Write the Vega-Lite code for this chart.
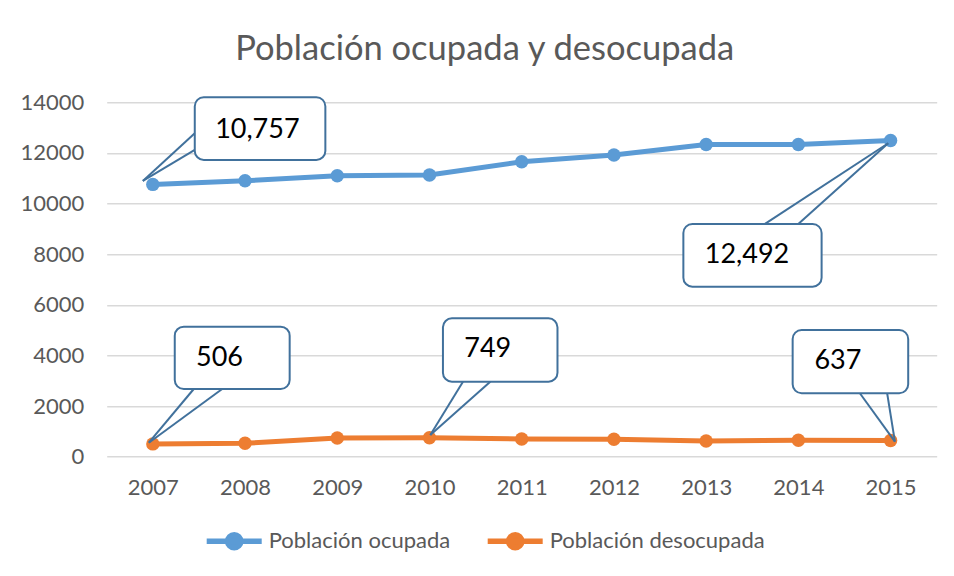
{
  "$schema": "https://vega.github.io/schema/vega-lite/v6.json",
  "width": 830,
  "height": 354.4,
  "autosize": {"type": "none"},
  "padding": {"left": 106.7, "top": 102.3, "right": 17.3, "bottom": 119.3},
  "background": "white",
  "title": {
    "text": "Población ocupada y desocupada",
    "font": "Lato",
    "fontSize": 34.5,
    "fontWeight": "normal",
    "color": "#595959",
    "anchor": "middle",
    "dx": -37,
    "offset": 24
  },
  "config": {
    "view": {"stroke": null},
    "font": "Lato",
    "axis": {
      "labelFont": "Lato",
      "labelFontSize": 22,
      "labelColor": "#595959",
      "domain": false,
      "ticks": false,
      "title": null
    }
  },
  "datasets": {
    "series": [
      {"year": 2007, "serie": "Población ocupada", "value": 10757},
      {"year": 2008, "serie": "Población ocupada", "value": 10900},
      {"year": 2009, "serie": "Población ocupada", "value": 11100},
      {"year": 2010, "serie": "Población ocupada", "value": 11130},
      {"year": 2011, "serie": "Población ocupada", "value": 11650},
      {"year": 2012, "serie": "Población ocupada", "value": 11920},
      {"year": 2013, "serie": "Población ocupada", "value": 12330},
      {"year": 2014, "serie": "Población ocupada", "value": 12330},
      {"year": 2015, "serie": "Población ocupada", "value": 12492},
      {"year": 2007, "serie": "Población desocupada", "value": 506},
      {"year": 2008, "serie": "Población desocupada", "value": 530},
      {"year": 2009, "serie": "Población desocupada", "value": 740},
      {"year": 2010, "serie": "Población desocupada", "value": 749},
      {"year": 2011, "serie": "Población desocupada", "value": 700},
      {"year": 2012, "serie": "Población desocupada", "value": 690},
      {"year": 2013, "serie": "Población desocupada", "value": 620},
      {"year": 2014, "serie": "Población desocupada", "value": 650},
      {"year": 2015, "serie": "Población desocupada", "value": 637}
    ],
    "boxes": [
      {"label": "10,757", "x1": 2007.455, "x2": 2008.871, "y1": 14200, "y2": 11723, "tx": 2008.134, "ty": 12908},
      {"label": "12,492", "x1": 2012.753, "x2": 2014.252, "y1": 9194, "y2": 6717, "tx": 2013.443, "ty": 7969},
      {"label": "506", "x1": 2007.238, "x2": 2008.484, "y1": 5136, "y2": 2675, "tx": 2007.723, "ty": 3900},
      {"label": "749", "x1": 2010.146, "x2": 2011.388, "y1": 5468, "y2": 2963, "tx": 2010.632, "ty": 4255},
      {"label": "637", "x1": 2013.938, "x2": 2015.191, "y1": 5006, "y2": 2505, "tx": 2014.429, "ty": 3781}
    ],
    "tails": [
      {"ax": 2006.892, "ay": 10893, "bx": 2007.455, "by": 12778},
      {"ax": 2006.892, "ay": 10893, "bx": 2007.455, "by": 12118},
      {"ax": 2014.974, "ay": 12383, "bx": 2013.638, "by": 9194},
      {"ax": 2014.974, "ay": 12383, "bx": 2013.999, "by": 9194},
      {"ax": 2006.957, "ay": 553, "bx": 2007.444, "by": 2675},
      {"ax": 2006.957, "ay": 553, "bx": 2007.752, "by": 2675},
      {"ax": 2010.009, "ay": 857, "bx": 2010.363, "by": 2963},
      {"ax": 2010.009, "ay": 857, "bx": 2010.659, "by": 2963},
      {"ax": 2015.047, "ay": 593, "bx": 2014.667, "by": 2505},
      {"ax": 2015.047, "ay": 593, "bx": 2014.963, "by": 2505}
    ]
  },
  "layer": [
    {
      "data": {"name": "series"},
      "mark": {"type": "line", "strokeWidth": 5, "point": {"size": 180, "filled": true, "opacity": 1}},
      "encoding": {
        "x": {
          "field": "year",
          "type": "quantitative",
          "scale": {"domain": [2006.5, 2015.5], "nice": false, "zero": false},
          "axis": {
            "values": [2007, 2008, 2009, 2010, 2011, 2012, 2013, 2014, 2015],
            "format": "d",
            "grid": false,
            "labelPadding": 21
          }
        },
        "y": {
          "field": "value",
          "type": "quantitative",
          "scale": {"domain": [0, 14000], "nice": false},
          "axis": {
            "values": [0, 2000, 4000, 6000, 8000, 10000, 12000, 14000],
            "format": "d",
            "grid": true,
            "gridColor": "#d9d9d9",
            "gridWidth": 1.5,
            "labelPadding": 23
          }
        },
        "color": {
          "field": "serie",
          "type": "nominal",
          "scale": {
            "domain": ["Población ocupada", "Población desocupada"],
            "range": ["#5B9BD5", "#ED7D31"]
          },
          "legend": {
            "title": null,
            "orient": "none",
            "legendX": 97,
            "legendY": 408,
            "direction": "horizontal",
            "symbolType": "M-1,0H1M-0.24,0A0.24,0.24 0 1,0 0.24,0A0.24,0.24 0 1,0 -0.24,0",
            "symbolSize": 3025,
            "symbolStrokeWidth": 5.5,
            "labelFont": "Lato",
            "labelFontSize": 22,
            "labelColor": "#595959",
            "labelOffset": 4,
            "labelLimit": 400,
            "columnPadding": 26
          }
        }
      }
    },
    {
      "data": {"name": "tails"},
      "mark": {"type": "rule", "color": "#41719C", "strokeWidth": 2, "clip": false},
      "encoding": {
        "x": {"field": "ax", "type": "quantitative"},
        "y": {"field": "ay", "type": "quantitative"},
        "x2": {"field": "bx"},
        "y2": {"field": "by"}
      }
    },
    {
      "data": {"name": "boxes"},
      "mark": {"type": "rect", "fill": "white", "stroke": "#41719C", "strokeWidth": 2, "cornerRadius": 9, "clip": false},
      "encoding": {
        "x": {"field": "x1", "type": "quantitative"},
        "x2": {"field": "x2"},
        "y": {"field": "y1", "type": "quantitative"},
        "y2": {"field": "y2"}
      }
    },
    {
      "data": {"name": "boxes"},
      "mark": {"type": "text", "font": "Lato", "fontSize": 27, "color": "black", "align": "center", "baseline": "middle", "clip": false},
      "encoding": {
        "x": {"field": "tx", "type": "quantitative"},
        "y": {"field": "ty", "type": "quantitative"},
        "text": {"field": "label"}
      }
    }
  ]
}
